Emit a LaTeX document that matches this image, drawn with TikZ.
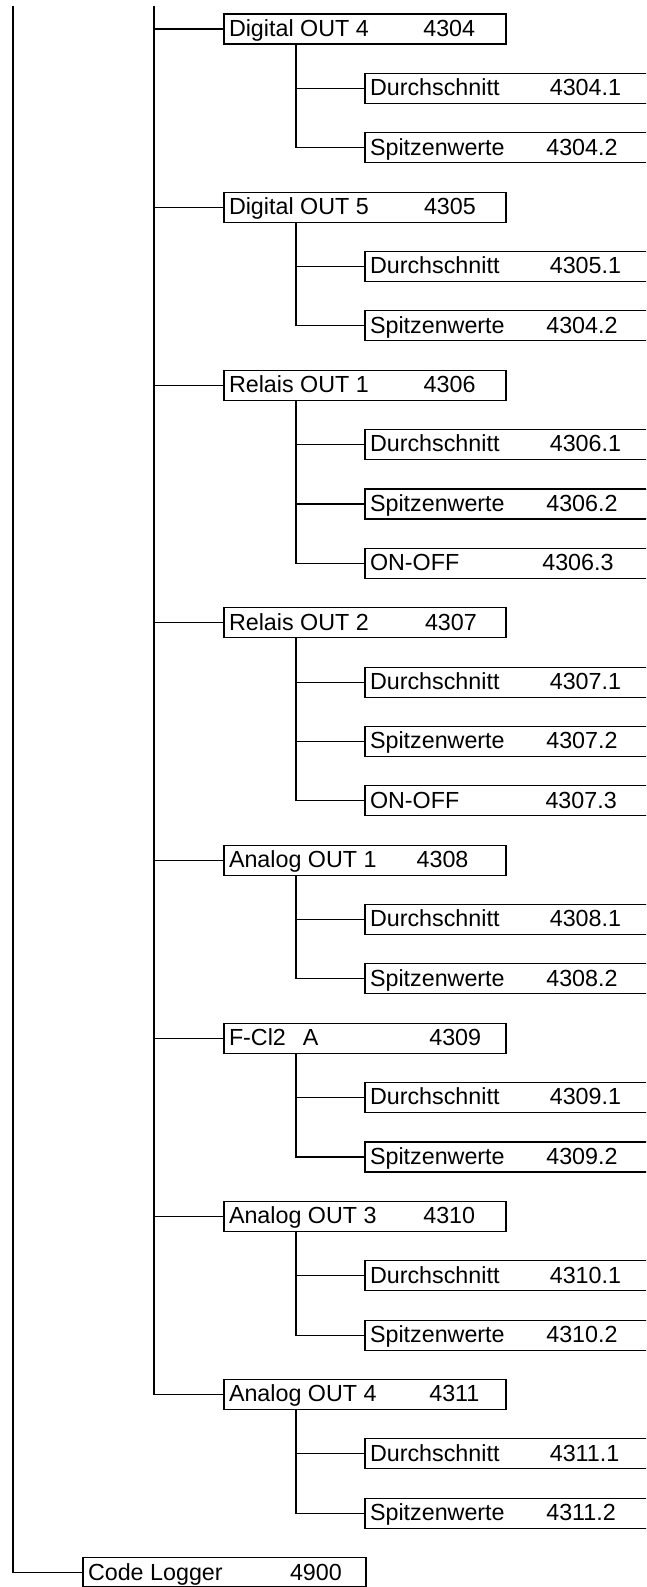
\documentclass[tikz,border=0pt]{standalone}
\usepackage{fontspec}
\setmainfont{Liberation Sans}
\begin{document}
\begin{tikzpicture}[x=1pt,y=-1pt,
  line width=1.1pt,
  pbox/.style={draw,rectangle,anchor=north west,inner sep=0pt,outer sep=0pt,
    minimum width=282pt,minimum height=30pt},
  cbox/.style={draw,rectangle,anchor=north west,inner sep=0pt,outer sep=0pt,
    minimum width=320pt,minimum height=30pt},
  lbox/.style={draw,rectangle,anchor=north west,inner sep=0pt,outer sep=0pt,
    minimum width=283pt,minimum height=29pt},
  lbl/.style={anchor=base west,inner sep=0pt,outer sep=0pt,
    font=\fontsize{23.3}{28}\selectfont}]
\useasboundingbox (0,0) rectangle (646,1587);
\clip (0,0) rectangle (646,1587);

% row r has its top edge at 14 + 59.37 r
\newcommand\rowtop[1]{14+59.37*#1}
% parent box: name, row, label, number, x of number
\newcommand\parentbox[5]{%
  \node[pbox] (#1) at (224,{\rowtop{#2}}) {};
  \node[lbl] (#1-t) at (229,{\rowtop{#2}+22.3}) {#3};
  \node[lbl] (#1-n) at (#5,{\rowtop{#2}+22.3}) {#4};}
% child box: name, row, label, number, x of number
\newcommand\childbox[5]{%
  \node[cbox] (#1) at (365,{\rowtop{#2}}) {};
  \node[lbl] (#1-t) at (370,{\rowtop{#2}+22.3}) {#3};
  \node[lbl] (#1-n) at (#5,{\rowtop{#2}+22.3}) {#4};}
% branch from a parent to its first and last child
\newcommand\branchtwo[3]{%
  \coordinate (#1-s) at ([xshift=72pt]#1.south west);
  \draw (#1-s) |- (#3.west);
  \draw (#2.west -| #1-s) -- (#2.west);}
\newcommand\branchthree[4]{%
  \coordinate (#1-s) at ([xshift=72pt]#1.south west);
  \draw (#1-s) |- (#4.west);
  \draw (#2.west -| #1-s) -- (#2.west);
  \draw (#3.west -| #1-s) -- (#3.west);}

% level one
\parentbox{d4}{0}{Digital OUT 4}{4304}{423.3}
\childbox{d4a}{1}{Durchschnitt}{4304.1}{549.8}
\childbox{d4b}{2}{Spitzenwerte}{4304.2}{546.3}

\parentbox{d5}{3}{Digital OUT 5}{4305}{424}
\childbox{d5a}{4}{Durchschnitt}{4305.1}{549.8}
\childbox{d5b}{5}{Spitzenwerte}{4304.2}{546.3}

\parentbox{r1}{6}{Relais OUT 1}{4306}{423.7}
\childbox{r1a}{7}{Durchschnitt}{4306.1}{549.8}
\childbox{r1b}{8}{Spitzenwerte}{4306.2}{546.3}
\childbox{r1c}{9}{ON-OFF}{4306.3}{542.3}

\parentbox{r2}{10}{Relais OUT 2}{4307}{425}
\childbox{r2a}{11}{Durchschnitt}{4307.1}{549.8}
\childbox{r2b}{12}{Spitzenwerte}{4307.2}{546.3}
\childbox{r2c}{13}{ON-OFF}{4307.3}{545.5}

\parentbox{a1}{14}{Analog OUT 1}{4308}{416.6}
\childbox{a1a}{15}{Durchschnitt}{4308.1}{549.8}
\childbox{a1b}{16}{Spitzenwerte}{4308.2}{546.3}

\parentbox{fc}{17}{F-Cl2\hspace{17pt}A}{4309}{429.3}
\childbox{fca}{18}{Durchschnitt}{4309.1}{549.8}
\childbox{fcb}{19}{Spitzenwerte}{4309.2}{546.3}

\parentbox{a3}{20}{Analog OUT 3}{4310}{423.3}
\childbox{a3a}{21}{Durchschnitt}{4310.1}{549.8}
\childbox{a3b}{22}{Spitzenwerte}{4310.2}{546.3}

\parentbox{a4}{23}{Analog OUT 4}{4311}{429.3}
\childbox{a4a}{24}{Durchschnitt}{4311.1}{549.8}
\childbox{a4b}{25}{Spitzenwerte}{4311.2}{546.3}

% bottom box on the outer trunk
\node[lbox] (cl) at (83,1557.7) {};
\node[lbl] (cl-t) at (88,1580) {Code Logger};
\node[lbl] (cl-n) at (290,1580) {4900};

% outer trunk
\coordinate (root) at (13,6);
\draw (root) |- (cl.west);

% inner trunk
\coordinate (trunk) at (154,6);
\draw (trunk) |- (a4.west);
\foreach \p in {d4,d5,r1,r2,a1,fc,a3}
  \draw (\p.west -| trunk) -- (\p.west);

% branches to the children
\branchtwo{d4}{d4a}{d4b}
\branchtwo{d5}{d5a}{d5b}
\branchthree{r1}{r1a}{r1b}{r1c}
\branchthree{r2}{r2a}{r2b}{r2c}
\branchtwo{a1}{a1a}{a1b}
\branchtwo{fc}{fca}{fcb}
\branchtwo{a3}{a3a}{a3b}
\branchtwo{a4}{a4a}{a4b}
\end{tikzpicture}
\end{document}
